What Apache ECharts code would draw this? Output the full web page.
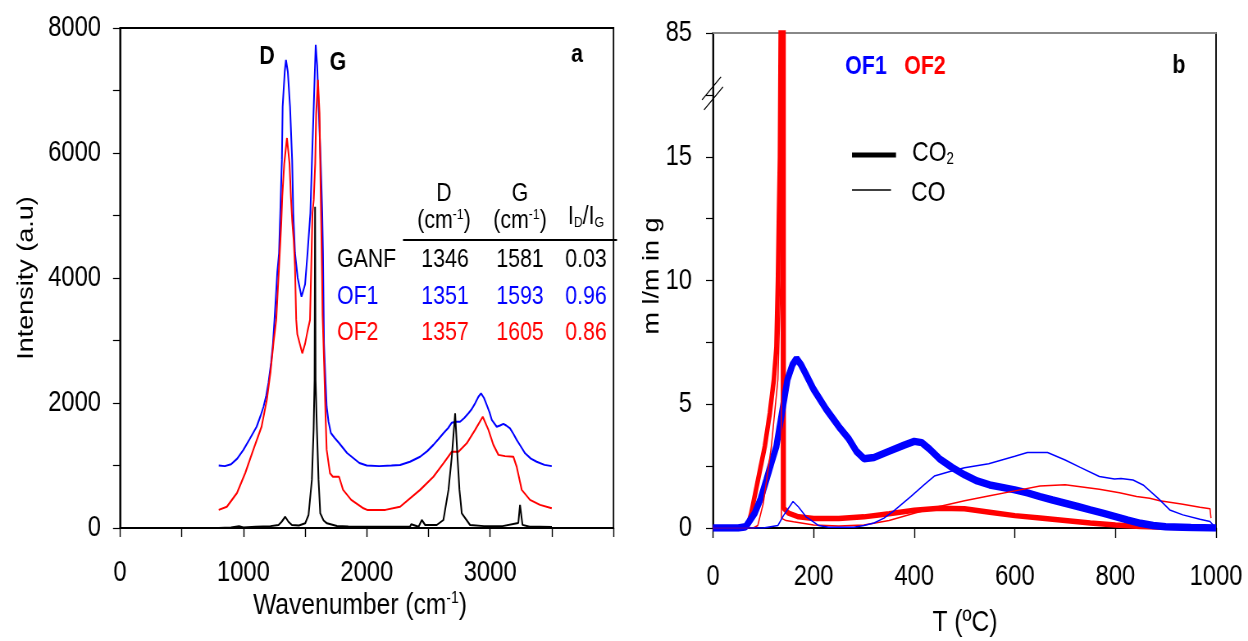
<!DOCTYPE html>
<html>
<head>
<meta charset="utf-8">
<script src="https://cdn.jsdelivr.net/npm/echarts@6/dist/echarts.min.js"></script>
<style>
  html, body { margin: 0; padding: 0; background: #fff; overflow: hidden; }
  /* the figure uses a condensed face; draw wider and squeeze horizontally */
  #main { width: 1522px; height: 641px; transform: scaleX(0.82); transform-origin: 0 0; }
</style>
</head>
<body>
<div id="main"></div>
<script>
// ---- panel a : Raman spectra ----
const of1Wave = [800,850,900,950,1000,1050,1107,1140,1163,1185,1203,1225,1240,1252,1262,1275,1289,1299,1312,1318,1335,1345,1360,1378,1395,1404,1418,1440,1471,1500,1520,1543,1556,1570,1586,1598,1610,1626,1639,1645,1653,1666,1675,1690,1709,1740,1775,1840,1940,2000,2100,2200,2270,2350,2432,2490,2540,2580,2621,2660,2689,2720,2756,2790,2824,2850,2878,2905,2926,2950,2972,2995,3013,3053,3080,3107,3130,3161,3190,3215,3250,3283,3330,3377,3440,3499];
const of1Int = [1000,990,1020,1110,1250,1420,1620,1800,1940,2120,2320,2650,2960,3330,3650,4100,4400,5040,5890,6740,7300,7490,7300,6740,5890,5040,4400,4000,3700,3900,4400,5040,5890,6740,7730,7400,6740,5890,5040,4400,2960,2320,1940,1700,1520,1440,1360,1200,1040,1000,990,1000,1008,1060,1140,1230,1330,1420,1515,1600,1685,1700,1700,1760,1835,1900,1995,2100,2155,2080,1970,1850,1730,1620,1640,1665,1640,1595,1500,1410,1300,1195,1110,1060,1010,990];

const of2Wave = [800,866,948,1015,1080,1147,1190,1220,1246,1266,1289,1307,1315,1331,1353,1374,1385,1396,1408,1418,1428,1437,1477,1500,1520,1540,1550,1560,1570,1582,1590,1604,1617,1623,1628,1633,1638,1642,1655,1666,1675,1702,1725,1775,1808,1874,1973,2003,2150,2270,2432,2540,2621,2689,2743,2810,2878,2940,2986,3026,3067,3120,3188,3215,3256,3323,3404,3499];
const of2Int = [290,340,560,880,1250,1620,2050,2500,3000,3330,4180,4880,5300,5830,6240,5830,5300,4900,4600,4180,3330,3100,2795,2950,3150,3330,4180,5040,5250,5830,6635,7170,6635,5830,5200,4600,4000,3400,2580,1780,1250,875,820,820,610,450,315,290,290,340,610,820,1035,1220,1220,1355,1570,1780,1570,1330,1170,1150,1140,980,610,450,370,315];

const ganfWave = [800,900,965,1000,1100,1220,1285,1310,1339,1365,1393,1450,1501,1528,1555,1569,1577,1581,1585,1596,1609,1623,1650,1677,1758,1850,2000,2200,2350,2360,2420,2446,2473,2567,2621,2662,2689,2716,2735,2751,2770,2837,2950,3100,3228,3242,3262,3320,3400,3500];
const ganfInt = [0,10,30,10,20,30,48,100,180,100,48,40,75,208,770,1570,2370,5140,2370,1570,770,235,120,75,32,25,20,20,20,60,20,128,48,48,128,610,1140,1835,1140,610,235,48,30,30,80,370,50,20,20,15];

const wavenumberTicks = [0, 1000, 2000, 3000];

// table of band positions
const tableRows = ['GANF', 'OF1', 'OF2'];
const tableD = ['1346', '1351', '1357'];
const tableG = ['1581', '1593', '1605'];
const tableRatio = ['0.03', '0.96', '0.86'];
const tableColors = ['#000000', '#0000ff', '#ff0000'];

// ---- panel b : gas evolution ----
const of1CO2T = [0,50,65,83,95,106,117,126,137,148,158,166,175,185,200,225,250,270,285,300,320,350,380,400,415,430,450,475,500,525,550,575,600,625,650,675,700,725,750,775,800,825,850,875,900,950,1000];
const of1CO2V = [0,0,0.05,0.6,1.2,1.94,2.7,3.3,4.65,6.0,6.6,6.85,6.6,6.2,5.6,4.8,4.1,3.6,3.1,2.8,2.85,3.1,3.35,3.5,3.45,3.2,2.8,2.45,2.15,1.9,1.74,1.64,1.54,1.42,1.27,1.13,1.0,0.87,0.73,0.6,0.46,0.32,0.19,0.1,0.05,0.02,0];

const of2CO2T = [0,60,70,76,90,103,113,121,126,129,131,133,136,139,140,140.5,150,170,200,250,300,350,400,450,500,550,600,650,700,750,800,850,900,950,1000];
const of2CO2V = [0,0,0.15,0.6,2.0,3.3,4.65,6.0,7.3,10,12.6,15,25,85,85,0.8,0.6,0.45,0.38,0.38,0.45,0.58,0.72,0.8,0.78,0.64,0.5,0.4,0.3,0.2,0.12,0.06,0.03,0.01,0];

const of1COT = [0,100,129,140,150,159,170,185,196,210,230,280,300,320,340,360,393,420,440,471,500,548,600,625,665,700,730,768,798,811,835,855,885,908,934,968,988,995,1000];
const of1COV = [0,0,0.1,0.5,0.8,1.07,0.85,0.45,0.3,0.1,0.03,0.03,0.1,0.2,0.4,0.7,1.27,1.75,2.1,2.28,2.43,2.6,2.9,3.05,3.05,2.75,2.45,2.08,1.98,2.0,1.94,1.74,1.2,0.73,0.53,0.35,0.26,0.1,0.02];

const of2COT = [0,80,89,100,116,129,134.6,135.5,136,136,145,160,200,250,300,350,400,450,500,550,600,650,700,768,808,842,868,888,931,968,988,990];
const of2COV = [0,0,0.1,1.0,3.3,6,10,18,18,0.4,0.3,0.25,0.12,0.08,0.12,0.3,0.6,0.87,1.1,1.3,1.5,1.7,1.75,1.57,1.42,1.27,1.2,1.1,0.97,0.84,0.78,0.4];

const breakValue = 17.5;   // where the axis is broken
const topLabel = '85';     // value printed at the top of the broken axis

const zip = (xs, ys) => xs.map((x, i) => [x, ys[i]]);

const SX = 0.82;             // horizontal squeeze applied to #main
const X = v => v / SX;       // screen x -> chart x
const FONT = "'Liberation Sans', Arial, sans-serif";
const BLACK = '#000';

function lineSeries(xi, yi, data, color, width, z) {
  return {
    type: 'line', xAxisIndex: xi, yAxisIndex: yi, data: data,
    symbol: 'none', smooth: false, clip: true, z: z,
    lineStyle: { color: color, width: width },
    emphasis: { disabled: true }
  };
}

const chart = echarts.init(document.getElementById('main'), null, { renderer: 'canvas' });

const axisText = { color: BLACK, fontSize: 29, fontFamily: FONT };
const W = 1248;

const option = {
  animation: false,
  backgroundColor: '#fff',
  grid: [
    { left: X(120), top: 28, right: X(W - 613.5), bottom: 113, show: true, borderColor: BLACK, borderWidth: 1.8, backgroundColor: 'transparent' },
    { left: X(713), top: 33, right: X(W - 1216), bottom: 113, show: true, borderColor: BLACK, borderWidth: 1.8, backgroundColor: 'transparent' }
  ],
  xAxis: [
    {
      gridIndex: 0, type: 'value', min: 0, max: 4000, interval: 1000,
      axisLine: { lineStyle: { color: BLACK, width: 1.5 } },
      axisTick: { inside: false, length: 9, lineStyle: { color: BLACK, width: 1.4 } },
      minorTick: { show: true, splitNumber: 2, length: 9, lineStyle: { color: BLACK, width: 1.4 } },
      splitLine: { show: false },
      axisLabel: Object.assign({ margin: 30, formatter: v => wavenumberTicks.includes(v) ? String(v) : '' }, axisText)
    },
    {
      gridIndex: 1, type: 'value', min: 0, max: 1000, interval: 200,
      axisLine: { lineStyle: { color: BLACK, width: 1.5 } },
      axisTick: { inside: false, length: 10, lineStyle: { color: BLACK, width: 1.4 } },
      splitLine: { show: false },
      axisLabel: Object.assign({ margin: 34, formatter: v => String(v) }, axisText)
    },
    {
      gridIndex: 1, type: 'value', min: 0, max: 1000, position: 'top',
      axisLine: { lineStyle: { color: '#888', width: 2 } },
      axisTick: { show: false }, axisLabel: { show: false }, splitLine: { show: false }
    }
  ],
  yAxis: [
    {
      gridIndex: 0, type: 'value', min: 0, max: 8000, interval: 2000,
      axisLine: { show: true, lineStyle: { color: BLACK, width: 1.8 } },
      axisTick: { show: true, inside: false, length: X(7), lineStyle: { color: BLACK, width: 1.2 } },
      minorTick: { show: true, splitNumber: 2, length: X(7), lineStyle: { color: BLACK, width: 1.2 } },
      splitLine: { show: false },
      axisLabel: Object.assign({ margin: X(19), formatter: v => String(v) }, axisText)
    },
    {
      gridIndex: 1, type: 'value', min: 0, max: 20, interval: 2.5,
      axisLine: { show: true, lineStyle: { color: BLACK, width: 1.8 } },
      axisTick: { show: true, inside: false, length: X(7), lineStyle: { color: BLACK, width: 1.2 } },
      splitLine: { show: false },
      axisLabel: Object.assign({
        margin: X(21), showMaxLabel: true,
        formatter: v => v === 20 ? topLabel : (v % 5 === 0 ? String(v) : '')
      }, axisText)
    }
  ],
  series: [
    lineSeries(0, 0, zip(of1Wave, of1Int), '#0000ff', 2, 2),
    lineSeries(0, 0, zip(of2Wave, of2Int), '#ff0000', 2, 3),
    lineSeries(0, 0, zip(ganfWave, ganfInt), '#000000', 2, 4),
    lineSeries(1, 1, zip(of2CO2T, of2CO2V), '#ff0000', 5.5, 2),
    lineSeries(1, 1, zip(of1CO2T, of1CO2V), '#0000ff', 7.5, 3),
    lineSeries(1, 1, zip(of2COT, of2COV), '#ff0000', 1.5, 4),
    lineSeries(1, 1, zip(of1COT, of1COV), '#0000ff', 1.5, 5)
  ]
};
chart.setOption(option);

// ---- text, table, legend ----
function txt(x, y, text, opts) {
  return {
    type: 'text', x: X(x), y: y, rotation: (opts && opts.rotation) || 0, z: 100,
    style: Object.assign({
      text: text, align: 'center', verticalAlign: 'middle',
      fill: BLACK, fontSize: 26, fontFamily: FONT
    }, opts && opts.style)
  };
}
function richStyle(size, color) {
  return {
    n: { fontSize: size, fontFamily: FONT, fill: color },
    sup: { fontSize: Math.round(size * 0.58), fontFamily: FONT, fill: color, padding: [0, 0, Math.round(size * 0.5), 0] },
    sub: { fontSize: Math.round(size * 0.58), fontFamily: FONT, fill: color, padding: [Math.round(size * 0.45), 0, 0, 0] }
  };
}
function seg(x1, y1, x2, y2, w) {
  return { type: 'line', z: 100, shape: { x1: X(x1), y1: y1, x2: X(x2), y2: y2 }, style: { stroke: BLACK, lineWidth: w } };
}

const bold = { fontWeight: 'bold', fontSize: 26 };
const graphics = [
  // axis titles
  txt(27, 278, 'Intensity (a.u)', { rotation: Math.PI / 2, style: { fontSize: 27 } }),
  txt(360, 606, '{n|Wavenumber (cm}{sup|-1}{n|)}', { style: { rich: richStyle(30, BLACK) } }),
  txt(652, 276, 'm l/m in g', { rotation: Math.PI / 2, style: { fontSize: 27 } }),
  txt(965, 623, 'T (ºC)', { style: { fontSize: 30 } }),
  // panel labels
  txt(267, 57, 'D', { style: bold }),
  txt(338, 63, 'G', { style: bold }),
  txt(577, 55, 'a', { style: bold }),
  txt(1179, 66, 'b', { style: bold }),
  txt(866, 67, 'OF1', { style: Object.assign({ fill: '#0000ff' }, bold) }),
  txt(925, 67, 'OF2', { style: Object.assign({ fill: '#ff0000' }, bold) }),
  // table header
  txt(444, 194, 'D'),
  txt(444, 221, '{n|(cm}{sup|-1}{n|)}', { style: { rich: richStyle(26, BLACK) } }),
  txt(520, 194, 'G'),
  txt(520, 221, '{n|(cm}{sup|-1}{n|)}', { style: { rich: richStyle(26, BLACK) } }),
  txt(586, 217, '{n|I}{sub|D}{n|/I}{sub|G}', { style: { rich: richStyle(26, BLACK) } }),
  seg(403, 240, 617, 240, 2),
  // legend of panel b
  seg(852, 155, 896, 155, 5),
  seg(852, 190, 891, 190, 1.5),
  txt(912, 153, '{n|CO}{sub|2}', { style: { align: 'left', rich: richStyle(28, BLACK) } }),
  txt(911, 193, 'CO', { style: { align: 'left', fontSize: 28 } })
];

const rowY = [260, 297, 333];
tableRows.forEach((name, i) => {
  const st = { fill: tableColors[i] };
  graphics.push(txt(337, rowY[i], name, { style: Object.assign({ align: 'left' }, st) }));
  graphics.push(txt(445, rowY[i], tableD[i], { style: st }));
  graphics.push(txt(520, rowY[i], tableG[i], { style: st }));
  graphics.push(txt(586, rowY[i], tableRatio[i], { style: st }));
});

// axis break marks on panel b
const bp = chart.convertToPixel({ gridIndex: 1 }, [0, breakValue]);
const bx = bp[0] * SX, by = bp[1];
graphics.push(seg(bx - 11, by + 5, bx + 8, by - 18, 1.3));
graphics.push(seg(bx - 9, by + 15, bx + 10, by - 8, 1.3));

chart.setOption({ graphic: graphics });
</script>
</body>
</html>
